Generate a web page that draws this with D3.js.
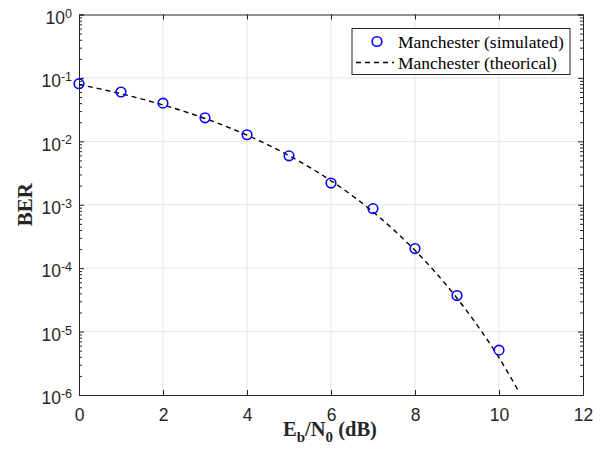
<!DOCTYPE html>
<html>
<head>
<meta charset="utf-8">
<script src="https://cdn.jsdelivr.net/npm/d3@7"></script>
<style>
  body { margin: 0; background: #fff; }
  svg { font-family: "Liberation Serif", "Times New Roman", serif; }
  .grid line { stroke: #e3e3e3; stroke-width: 1; }
  .axis path, .axis line { stroke: #262626; }
  .axis text { fill: #262626; font-size: 17.5px; }
</style>
</head>
<body>
<svg class="chart"></svg>
<script>
// simulated BER points
const simEbN0 = [0, 1, 2, 3, 4, 5, 6, 7, 8, 9, 10];
const simBER = [0.081, 0.060, 0.040, 0.0235, 0.0127, 0.0059, 0.0022, 0.00087, 0.000204, 0.000037, 0.0000051];

// theoretical curve
const theoEbN0 = [0, 0.5, 1, 1.5, 2, 2.5, 3, 3.5, 4, 4.5, 5, 5.5, 6, 6.5, 7, 7.5, 8, 8.5, 9, 9.5, 10, 10.45];
const theoBER = [0.0786, 0.0671, 0.0563, 0.0464, 0.0375, 0.0297, 0.0229, 0.0172, 0.0125, 0.0088,
  0.00595, 0.00386, 0.00239, 0.0014, 0.000773, 0.000398, 0.000191, 0.000084, 0.0000336, 0.0000121,
  0.00000387, 0.0000012];

const xTicks = [0, 2, 4, 6, 8, 10, 12];
const yTicks = [1e-6, 1e-5, 1e-4, 1e-3, 1e-2, 1e-1, 1];
const legendLabels = ["Manchester (simulated)", "Manchester (theorical)"];

const W = 603, H = 453;
const margin = {top: 14.5, right: 20, bottom: 58, left: 79};
const width = 504, height = 380.5;

const svg = d3.select(".chart").attr("width", W).attr("height", H);
const g = svg.append("g").attr("transform", "translate(" + margin.left + "," + margin.top + ")");

const x = d3.scaleLinear().domain([0, 12]).range([0, width]);
const y = d3.scaleLog().domain([1e-6, 1]).range([height, 0]);

// minor ticks for log axis
const minorTicks = [];
for (let e = -6; e < 0; e++) {
  for (let k = 2; k <= 9; k++) minorTicks.push(k * Math.pow(10, e));
}

// grid
g.append("g").attr("class", "grid")
  .selectAll("line.gx").data(xTicks.slice(1, -1)).enter().append("line")
    .attr("x1", d => x(d)).attr("x2", d => x(d))
    .attr("y1", 0).attr("y2", height);
g.select(".grid")
  .selectAll("line.gy").data(yTicks.slice(1, -1)).enter().append("line")
    .attr("x1", 0).attr("x2", width)
    .attr("y1", d => y(d)).attr("y2", d => y(d));

// x axes (bottom with labels, top without), ticks inward
g.append("g").attr("class", "axis")
  .attr("transform", "translate(0," + height + ")")
  .call(d3.axisBottom(x).tickValues(xTicks).tickSize(-5).tickFormat(d3.format("d")))
  .call(a => a.selectAll(".tick text").attr("y", 25.5).attr("dy", 0));
g.append("g").attr("class", "axis")
  .call(d3.axisTop(x).tickValues(xTicks).tickSize(-5).tickFormat(""));

// y axes: major and minor ticks on both sides
const yLeft = g.append("g").attr("class", "axis")
  .call(d3.axisLeft(y).tickValues(yTicks).tickSize(-5).tickFormat(""));
g.append("g").attr("class", "axis")
  .call(d3.axisLeft(y).tickValues(minorTicks).tickSize(-3).tickFormat(""))
  .call(a => a.select(".domain").remove());
g.append("g").attr("class", "axis")
  .attr("transform", "translate(" + width + ",0)")
  .call(d3.axisRight(y).tickValues(yTicks).tickSize(-5).tickFormat(""));
g.append("g").attr("class", "axis")
  .attr("transform", "translate(" + width + ",0)")
  .call(d3.axisRight(y).tickValues(minorTicks).tickSize(-3).tickFormat(""))
  .call(a => a.select(".domain").remove());

// y tick labels as 10^n
yLeft.selectAll(".tick text")
  .attr("x", -7).attr("dy", "0.5em")
  .each(function(d) {
    const t = d3.select(this);
    t.append("tspan").text("10");
    t.append("tspan").attr("dy", "-0.5em").style("font-size", "12.5px").text(Math.round(Math.log10(d)));
  });

// theoretical line
const line = d3.line()
  .x((d, i) => x(theoEbN0[i]))
  .y(d => y(d))
  .curve(d3.curveMonotoneX);

g.append("path")
  .datum(theoBER)
  .attr("fill", "none")
  .attr("stroke", "#000")
  .attr("stroke-width", 1.4)
  .attr("stroke-dasharray", "5,4")
  .attr("d", line);

// simulated markers
g.selectAll(".dot")
  .data(simBER)
  .enter().append("circle")
    .attr("class", "dot")
    .attr("cx", (d, i) => x(simEbN0[i]))
    .attr("cy", d => y(d))
    .attr("r", 4.8)
    .attr("fill", "none")
    .attr("stroke", "#0000ff")
    .attr("stroke-width", 1.6);

// axis labels
svg.append("text")
  .attr("transform", "translate(32," + (margin.top + height / 2) + ") rotate(-90)")
  .attr("text-anchor", "middle")
  .style("font-size", "21px").style("font-weight", "bold").style("fill", "#262626")
  .text("BER");

const xl = svg.append("text")
  .attr("x", margin.left + width / 2 - 1).attr("y", 436)
  .attr("text-anchor", "middle")
  .style("font-size", "20.5px").style("font-weight", "bold").style("fill", "#262626");
xl.append("tspan").text("E");
xl.append("tspan").attr("dy", "6").style("font-size", "15px").text("b");
xl.append("tspan").attr("dy", "-6").text("/N");
xl.append("tspan").attr("dy", "6").style("font-size", "15px").text("0");
xl.append("tspan").attr("dy", "-6").text(" (dB)");

// legend
const lg = svg.append("g").attr("transform", "translate(352,28.5)");
lg.append("rect")
  .attr("width", 218).attr("height", 46)
  .attr("fill", "#fff").attr("stroke", "#262626").attr("stroke-width", 1);
lg.append("circle")
  .attr("cx", 25).attr("cy", 13).attr("r", 4.8)
  .attr("fill", "none").attr("stroke", "#0000ff").attr("stroke-width", 1.6);
lg.append("line")
  .attr("x1", 4).attr("x2", 42).attr("y1", 34).attr("y2", 34)
  .attr("stroke", "#000").attr("stroke-width", 1.4).attr("stroke-dasharray", "5,4");
lg.selectAll("text.leg")
  .data(legendLabels)
  .enter().append("text")
    .attr("class", "leg")
    .attr("x", 46)
    .attr("y", (d, i) => 13 + i * 21)
    .attr("dy", "0.35em")
    .style("font-size", "17.5px").style("fill", "#000")
    .text(d => d);
</script>
</body>
</html>
